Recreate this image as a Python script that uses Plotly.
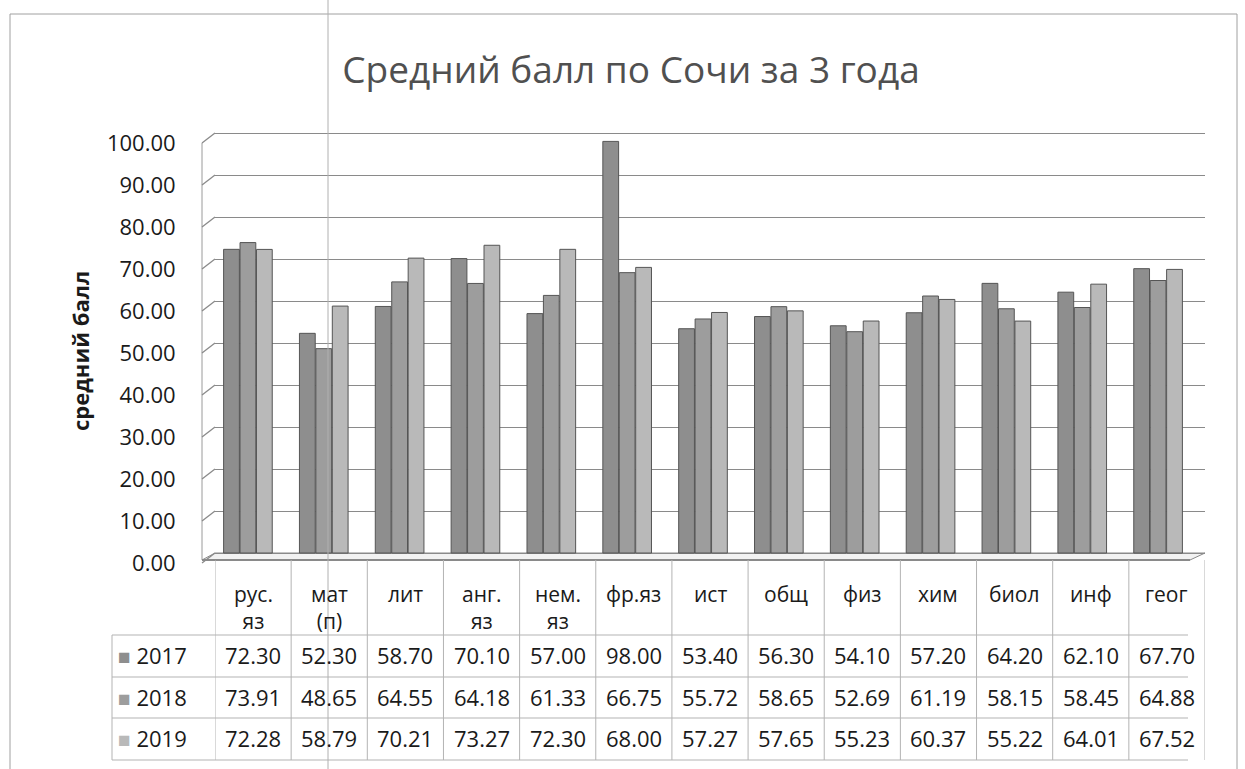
import plotly.graph_objects as go

# ---------------- data ----------------
categories = ["рус.<br>яз", "мат<br>(п)", "лит", "анг.<br>яз", "нем.<br>яз", "фр.яз",
              "ист", "общ", "физ", "хим", "биол", "инф", "геог"]
years = ["2017", "2018", "2019"]
v2017 = [72.30, 52.30, 58.70, 70.10, 57.00, 98.00, 53.40, 56.30, 54.10, 57.20, 64.20, 62.10, 67.70]
v2018 = [73.91, 48.65, 64.55, 64.18, 61.33, 66.75, 55.72, 58.65, 52.69, 61.19, 58.15, 58.45, 64.88]
v2019 = [72.28, 58.79, 70.21, 73.27, 72.30, 68.00, 57.27, 57.65, 55.23, 60.37, 55.22, 64.01, 67.52]
y_ticks = [0, 10, 20, 30, 40, 50, 60, 70, 80, 90, 100]
title_text = "Средний балл по Сочи за 3 года"
y_title = "средний балл"

series = [v2017, v2018, v2019]
colors = ["#8e8e8e", "#9d9d9d", "#b9b9b9"]

# ---------------- layout helpers (pixels -> paper) ----------------
W, H = 1245, 769
def X(px):
    return px / W
def Y(py):
    return 1 - py / H

FONT = "Open Sans"
n = len(categories)
idx = list(range(n))

# vertical mapping: value v -> back pixel 553 - 4.2 v ; front labels 10px lower
PPU = 4.2
BACK0 = 553
PLOT_TOP, PLOT_BOT = 120, 568
y_r0 = (BACK0 - PLOT_BOT) / PPU
y_r1 = (BACK0 - PLOT_TOP) / PPU
shift = 10 / PPU

# horizontal: table columns 202..1188, bars shifted +8 px
TL, TR = 202, 1188
col_w = (TR - TL) / n
bar_c0 = TL + col_w * 0.5 + 8
BX0, BX1 = 215, 1205
x_r0 = (BX0 - bar_c0) / col_w
x_r1 = (BX1 - bar_c0) / col_w

fig = go.Figure()
for yr, vals, c in zip(years, series, colors):
    fig.add_trace(go.Bar(
        x=idx, y=vals, name=yr,
        marker=dict(color=c, line=dict(color="#555555", width=1)),
        showlegend=False, xaxis="x", yaxis="y",
    ))

# invisible helper traces so that table axis and label axis exist
fig.add_trace(go.Scatter(x=idx, y=[None] * n, xaxis="x2", yaxis="y",
                         showlegend=False, hoverinfo="skip"))
fig.add_trace(go.Scatter(x=idx, y=[None] * n, xaxis="x", yaxis="y2",
                         showlegend=False, hoverinfo="skip"))

shapes = []
line_col = "#b3b3b3"

# floor slab
shapes.append(dict(type="path", xref="paper", yref="paper", layer="below",
                   path=f"M {X(202)},{Y(560)} L {X(215)},{Y(BACK0)} L {X(1205)},{Y(BACK0)} L {X(1190)},{Y(560)} Z",
                   fillcolor="#f2f2f2", line=dict(color="#8a8a8a", width=1)))
# left side wall
shapes.append(dict(type="line", xref="paper", yref="paper", layer="below",
                   x0=X(202), x1=X(202), y0=Y(563 - PPU * 100), y1=Y(560),
                   line=dict(color="#9a9a9a", width=1)))
for v in y_ticks:
    shapes.append(dict(type="line", xref="paper", yref="paper", layer="below",
                       x0=X(202), x1=X(215), y0=Y(BACK0 + 10 - PPU * v), y1=Y(BACK0 - PPU * v),
                       line=dict(color="#8a8a8a", width=1.3)))

# table: top line (floor front)
shapes.append(dict(type="line", xref="paper", yref="paper",
                   x0=X(TL), x1=X(1190), y0=Y(560), y1=Y(560),
                   line=dict(color="#8a8a8a", width=2)))
# horizontal row lines
for py in [635, 677, 718, 760]:
    shapes.append(dict(type="line", xref="paper", yref="paper",
                       x0=X(112), x1=X(TR), y0=Y(py), y1=Y(py),
                       line=dict(color=line_col, width=1)))
# vertical column lines (via table axis)
for i in range(n + 1):
    shapes.append(dict(type="line", xref="x2", yref="paper",
                       x0=i - 0.5, x1=i - 0.5, y0=Y(560), y1=Y(760),
                       line=dict(color=line_col, width=1)))
shapes.append(dict(type="line", xref="paper", yref="paper",
                   x0=X(112), x1=X(112), y0=Y(635), y1=Y(760),
                   line=dict(color=line_col, width=1)))

# chart border and scan line
shapes.append(dict(type="path", xref="paper", yref="paper",
                   path=f"M {X(10)},{Y(769)} L {X(10)},{Y(14)} L {X(1237)},{Y(14)} L {X(1237)},{Y(769)}",
                   line=dict(color="#a0a0a0", width=1)))
shapes.append(dict(type="line", xref="paper", yref="paper",
                   x0=X(328), x1=X(328), y0=0, y1=1,
                   line=dict(color="#b0b0b0", width=1)))

annotations = []
# header labels
for i, c in enumerate(categories):
    annotations.append(dict(x=i, xref="x2", y=Y(578), yref="paper", yanchor="top",
                            xanchor="center", text=c, showarrow=False, align="center",
                            font=dict(family=FONT, size=21, color="#1a1a1a")))
# data rows
row_centers = [655, 697, 738]
for yr, vals, c, rc in zip(years, series, colors, row_centers):
    annotations.append(dict(x=X(116), xref="paper", y=Y(rc), yref="paper",
                            xanchor="left", yanchor="middle", showarrow=False,
                            text=f"<span style='color:{c};font-size:21px'>■</span> {yr}",
                            font=dict(family=FONT, size=22, color="#1a1a1a")))
    for i, v in enumerate(vals):
        annotations.append(dict(x=i, xref="x2", y=Y(rc), yref="paper",
                                xanchor="center", yanchor="middle", showarrow=False,
                                text=f"{v:.2f}",
                                font=dict(family=FONT, size=22, color="#1a1a1a")))
# y-axis title
annotations.append(dict(x=X(80), xref="paper", y=Y(351), yref="paper",
                        xanchor="center", yanchor="middle",
                        text=f"<b>{y_title}</b>", textangle=-90, showarrow=False,
                        font=dict(family=FONT, size=22, color="#1a1a1a")))

fig.update_layout(
    width=W, height=H,
    margin=dict(l=0, r=0, t=0, b=0),
    paper_bgcolor="white", plot_bgcolor="white",
    barmode="group", bargap=0.35, bargroupgap=0.04,
    title=dict(text=title_text, x=X(631), y=Y(70), xanchor="center", yanchor="middle",
               font=dict(family=FONT, size=37, color="#505050")),
    xaxis=dict(domain=[X(BX0), X(BX1)], range=[x_r0, x_r1], visible=False,
               anchor="y"),
    xaxis2=dict(domain=[X(TL), X(TR)], range=[-0.5, n - 0.5], visible=False,
                anchor="y", overlaying="x"),
    yaxis=dict(domain=[Y(PLOT_BOT), Y(PLOT_TOP)], range=[y_r0, y_r1],
               tickvals=y_ticks, showticklabels=False, showgrid=True,
               gridcolor="#8a8a8a", gridwidth=1.4, zeroline=False, showline=False,
               anchor="x"),
    yaxis2=dict(domain=[Y(PLOT_BOT), Y(PLOT_TOP)], range=[y_r0 + shift, y_r1 + shift],
                overlaying="y", side="left", anchor="free", position=X(202),
                tickvals=y_ticks, tickformat=".2f", showgrid=False, zeroline=False,
                showline=False, ticks="outside", ticklen=22, tickcolor="rgba(0,0,0,0)",
                automargin=False,
                tickfont=dict(family=FONT, size=22, color="#1a1a1a")),
    shapes=shapes, annotations=annotations,
)

fig.write_html("out.html", config={"displayModeBar": False},
               post_script="document.body.style.margin='0';document.body.style.overflow='hidden';")
